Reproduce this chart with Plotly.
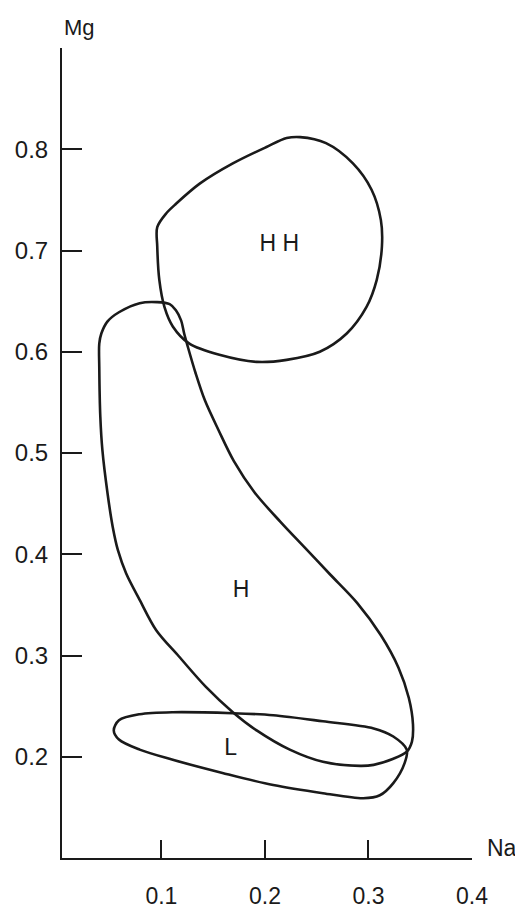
import plotly.graph_objects as go

# outline of the HH field (Na, Mg), traced clockwise from the top
hh_na = [0.234, 0.259, 0.285, 0.303, 0.312, 0.313, 0.308, 0.298, 0.279, 0.253,
         0.221, 0.192, 0.156, 0.127, 0.111, 0.103, 0.098, 0.096, 0.096, 0.105,
         0.114, 0.137, 0.169, 0.201, 0.221, 0.234]
hh_mg = [0.812, 0.806, 0.786, 0.760, 0.730, 0.704, 0.671, 0.644, 0.618, 0.600,
         0.592, 0.590, 0.597, 0.608, 0.625, 0.644, 0.671, 0.704, 0.723, 0.737,
         0.746, 0.766, 0.786, 0.802, 0.811, 0.812]

# outline of the H field
h_na = [0.096, 0.079, 0.059, 0.048, 0.042, 0.040, 0.040, 0.041, 0.043, 0.048,
        0.053, 0.058, 0.066, 0.079, 0.095, 0.117, 0.143, 0.169, 0.192, 0.224,
        0.256, 0.292, 0.305, 0.324, 0.337, 0.342, 0.343, 0.339, 0.329, 0.312,
        0.289, 0.263, 0.239, 0.215, 0.190, 0.170, 0.155, 0.142, 0.133, 0.1255,
        0.122, 0.119, 0.114, 0.108, 0.096]
h_mg = [0.649, 0.648, 0.639, 0.630, 0.618, 0.608, 0.585, 0.536, 0.503, 0.460,
        0.427, 0.404, 0.381, 0.355, 0.325, 0.299, 0.269, 0.244, 0.226, 0.207,
        0.195, 0.191, 0.192, 0.198, 0.205, 0.215, 0.232, 0.258, 0.288, 0.320,
        0.352, 0.380, 0.406, 0.432, 0.461, 0.492, 0.523, 0.552, 0.579, 0.605,
        0.618, 0.631, 0.641, 0.647, 0.649]

# outline of the L field
l_na = [0.054, 0.059, 0.079, 0.111, 0.169, 0.208, 0.256, 0.305, 0.324, 0.337,
        0.335, 0.324, 0.311, 0.295, 0.256, 0.208, 0.159, 0.111, 0.079, 0.059,
        0.054]
l_mg = [0.226, 0.236, 0.242, 0.244, 0.243, 0.241, 0.235, 0.228, 0.220, 0.207,
        0.194, 0.174, 0.162, 0.159, 0.164, 0.172, 0.184, 0.197, 0.207, 0.217,
        0.226]

field_labels = ["H H", "H", "L"]
label_na = [0.214, 0.177, 0.167]
label_mg = [0.705, 0.363, 0.207]

x_ticks = [0.1, 0.2, 0.3, 0.4]
y_ticks = [0.2, 0.3, 0.4, 0.5, 0.6, 0.7, 0.8, 0.9]
y_ticktext = ["0.2", "0.3", "0.4", "0.5", "0.6", "0.7", "0.8", ""]

ink = "#1a1a1a"
font = "Liberation Sans, Arial, sans-serif"

fig = go.Figure()
for xs, ys in [(hh_na, hh_mg), (h_na, h_mg), (l_na, l_mg)]:
    fig.add_trace(go.Scatter(
        x=xs, y=ys, mode="lines",
        line=dict(color=ink, width=2.6, shape="spline", smoothing=0.9),
        hoverinfo="skip", showlegend=False,
    ))

fig.add_trace(go.Scatter(
    x=label_na, y=label_mg, mode="text", text=field_labels,
    textfont=dict(family=font, size=23, color=ink),
    hoverinfo="skip", showlegend=False,
))

fig.add_annotation(x=0, y=1, xref="paper", yref="paper", text="Mg",
                   showarrow=False, xanchor="left", yanchor="bottom",
                   yshift=6, font=dict(family=font, size=22, color=ink))
fig.add_annotation(x=1, y=0, xref="paper", yref="paper", text="Na",
                   showarrow=False, xanchor="left", yanchor="bottom",
                   xshift=13, yshift=-5, font=dict(family=font, size=23, color=ink))

# the page body adds an 8 px offset, so the margins are shifted back by 8 px
fig.update_xaxes(
    range=[0.004, 0.4], tickvals=x_ticks, ticktext=["0.1", "0.2", "0.3", "0.4"],
    ticks="inside", ticklen=18, tickwidth=2, tickcolor=ink,
    showline=True, linecolor=ink, linewidth=2, showgrid=False, zeroline=False,
    tickfont=dict(family=font, size=23, color=ink), ticklabelstandoff=16,
    automargin=False,
)
fig.update_yaxes(
    range=[0.1, 0.9], tickvals=y_ticks, ticktext=y_ticktext,
    ticks="inside", ticklen=20, tickwidth=2, tickcolor=ink,
    showline=True, linecolor=ink, linewidth=2, showgrid=False, zeroline=False,
    tickfont=dict(family=font, size=24, color=ink), ticklabelstandoff=7,
    automargin=False,
)
fig.update_layout(
    width=523, height=909,
    margin=dict(l=54, r=59, t=40, b=59),
    paper_bgcolor="white", plot_bgcolor="white",
)

fig.write_html("out.html")
